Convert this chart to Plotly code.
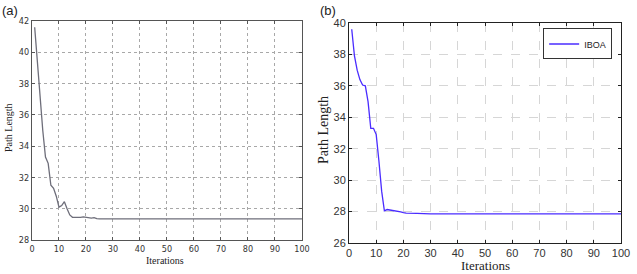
import plotly.graph_objects as go

# ---- data ----
iter_a = [1, 2, 3, 4, 5, 6, 7, 8, 9, 10, 11, 12, 13, 14, 15, 16, 17, 18, 19, 20, 21, 22, 23, 24, 25, 100]
len_a = [41.6, 39.2, 36.9, 35.0, 33.3, 32.9, 31.5, 31.3, 30.8, 30.1, 30.2, 30.45, 30.0, 29.6, 29.45,
         29.45, 29.43, 29.45, 29.48, 29.45, 29.42, 29.4, 29.43, 29.36, 29.35, 29.35]

iter_b = [1, 2, 3, 4, 5, 6, 7, 8, 9, 10, 11, 12, 13, 14, 15, 16, 17, 18, 19, 20, 21, 25, 30, 100]
len_b = [39.6, 37.9, 37.0, 36.4, 36.05, 36.0, 35.0, 33.3, 33.3, 32.9, 31.2, 29.3, 28.05, 28.13, 28.1,
         28.08, 28.05, 28.02, 27.98, 27.93, 27.9, 27.88, 27.86, 27.86]

x_ticks = [0, 10, 20, 30, 40, 50, 60, 70, 80, 90, 100]
y_ticks_a = [28, 30, 32, 34, 36, 38, 40, 42]
y_ticks_b = [26, 28, 30, 32, 34, 36, 38, 40]
series_name_b = "IBOA"

fig = go.Figure()

fig.add_trace(go.Scatter(x=iter_a, y=len_a, mode="lines", xaxis="x", yaxis="y",
                         line=dict(color="#6e6e7a", width=1.3), showlegend=False))
fig.add_trace(go.Scatter(x=iter_b, y=len_b, mode="lines", xaxis="x2", yaxis="y2",
                         name=series_name_b, line=dict(color="#4a2cff", width=1.3), showlegend=True))

tick_font_a = dict(family="DejaVu Sans Condensed, Liberation Sans Narrow, Arial", size=9, color="#333333")
tick_font_b = dict(family="Liberation Sans, Arial", size=11, color="#333333")

common = dict(showline=True, mirror="ticks", ticks="inside", ticklen=3, zeroline=False,
              automargin=False)

fig.update_layout(
    width=637, height=274,
    margin=dict(l=0, r=0, t=0, b=0),
    paper_bgcolor="white", plot_bgcolor="white",
    xaxis=dict(domain=[0.0502, 0.4741], range=[0, 100], tickvals=x_ticks, anchor="y",
               linecolor="#555555", linewidth=1.2, tickcolor="#555555",
               showgrid=True, gridcolor="#a8a8a8", griddash="dot", gridwidth=1,
               tickfont=tick_font_a, **common),
    yaxis=dict(domain=[0.1241, 0.9234], range=[28, 42], tickvals=y_ticks_a, anchor="x",
               linecolor="#555555", linewidth=1.2, tickcolor="#555555",
               showgrid=True, gridcolor="#a8a8a8", griddash="dot", gridwidth=1,
               tickfont=tick_font_a, **common),
    xaxis2=dict(domain=[0.5479, 0.9749], range=[0, 100], tickvals=x_ticks, anchor="y2",
                linecolor="#222222", linewidth=1, tickcolor="#222222",
                showgrid=True, gridcolor="#d6d6d6", griddash="dash", gridwidth=1,
                tickfont=tick_font_b, **common),
    yaxis2=dict(domain=[0.1131, 0.9161], range=[26, 40], tickvals=y_ticks_b, anchor="x2",
                linecolor="#222222", linewidth=1, tickcolor="#222222",
                showgrid=True, gridcolor="#d6d6d6", griddash="dash", gridwidth=1,
                tickfont=tick_font_b, **common),
    legend=dict(x=0.961, y=0.896, xanchor="right", yanchor="top",
                bgcolor="white", bordercolor="#333333", borderwidth=1,
                font=dict(family="Liberation Sans, Arial", size=9, color="#222222"),
                itemwidth=30, tracegroupgap=0),
)

serif = "Liberation Serif, DejaVu Serif"
annotations = [
    dict(text="(a)", x=0.0, y=1.0, xref="paper", yref="paper", xanchor="left", yanchor="top",
         yshift=-1, showarrow=False, font=dict(family="Liberation Sans, Arial", size=13, color="#222222")),
    dict(text="(b)", x=318 / 637, y=1.0, xref="paper", yref="paper", xanchor="left", yanchor="top",
         yshift=-1, showarrow=False, font=dict(family="Liberation Sans, Arial", size=13, color="#222222")),
    dict(text="Path Length", x=8 / 637, y=1 - 128 / 274, xref="paper", yref="paper",
         xanchor="center", yanchor="middle", textangle=-90, showarrow=False,
         font=dict(family=serif, size=10, color="#222222")),
    dict(text="Iterations", x=165 / 637, y=1 - 260 / 274, xref="paper", yref="paper",
         xanchor="center", yanchor="middle", showarrow=False,
         font=dict(family=serif, size=10, color="#222222")),
    dict(text="Path Length", x=323 / 637, y=1 - 130 / 274, xref="paper", yref="paper",
         xanchor="center", yanchor="middle", textangle=-90, showarrow=False,
         font=dict(family=serif, size=14, color="#222222")),
    dict(text="Iterations", x=485 / 637, y=1 - 265 / 274, xref="paper", yref="paper",
         xanchor="center", yanchor="middle", showarrow=False,
         font=dict(family=serif, size=13, color="#222222")),
]
fig.update_layout(annotations=annotations)

fig.write_html(
    "out.html",
    config={"displayModeBar": False},
    post_script="document.body.style.margin='0';document.body.style.overflow='hidden';",
)
